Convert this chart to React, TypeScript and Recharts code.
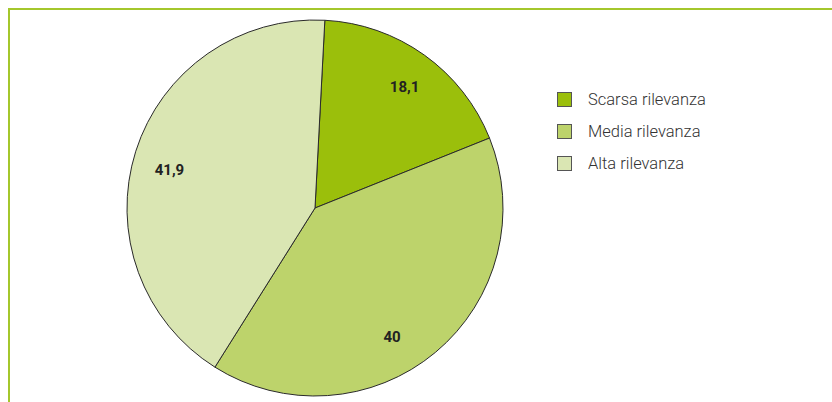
import React from 'react';
import { PieChart, Pie, Cell } from 'recharts';

const categories = ['Scarsa rilevanza', 'Media rilevanza', 'Alta rilevanza'];
const values = [18.1, 40, 41.9];
const valueLabels = ['18,1', '40', '41,9'];
const colors = ['#9bbf0b', '#bdd36b', '#dae6b3'];

const data = categories.map((name, i) => ({ name, value: values[i] }));

const RADIAN = Math.PI / 180;
// small nudges so the value labels sit where the original has them
const labelShift = [-1, -9, 3];

const renderLabel = (props: any) => {
  const { cx, cy, midAngle, outerRadius, index } = props;
  const r = outerRadius * 0.8;
  const a = (midAngle + labelShift[index]) * RADIAN;
  const x = cx + r * Math.cos(-a);
  const y = cy + r * Math.sin(-a);
  return (
    <text
      x={x}
      y={y}
      textAnchor="middle"
      dominantBaseline="central"
      fontFamily="Roboto, sans-serif"
      fontWeight={700}
      fontSize={15}
      fill="#222"
    >
      {valueLabels[index]}
    </text>
  );
};

export default function App() {
  return (
    <div style={{ position: 'fixed', left: 0, top: 0, width: 832, height: 402, background: '#fff', overflow: 'hidden' }}>
      <div
        style={{
          position: 'absolute',
          left: 8,
          top: 8,
          width: 840,
          height: 410,
          borderTop: '2px solid #a4c72c',
          borderLeft: '2px solid #a4c72c',
        }}
      />
      <PieChart
        width={832}
        height={402}
        margin={{ top: 0, right: 0, bottom: 0, left: 0 }}
        style={{ position: 'absolute', left: 0, top: 0 }}
      >
        <Pie
          data={data}
          dataKey="value"
          cx={315}
          cy={208}
          outerRadius={188}
          startAngle={87}
          endAngle={-273}
          stroke="#2a2a2a"
          strokeWidth={1}
          label={renderLabel}
          labelLine={false}
          isAnimationActive={false}
        >
          {data.map((d, i) => (
            <Cell key={d.name} fill={colors[i]} />
          ))}
        </Pie>
      </PieChart>
      {categories.map((c, i) => (
        <div key={c} style={{ position: 'absolute', left: 557, top: 92 + i * 32, height: 16 }}>
          <div
            style={{
              position: 'absolute',
              left: 0,
              top: 0,
              width: 15,
              height: 15,
              background: colors[i],
              border: '1px solid #555',
              boxSizing: 'border-box',
            }}
          />
          <div
            style={{
              position: 'absolute',
              left: 31,
              top: -2,
              whiteSpace: 'nowrap',
              fontFamily: 'Roboto, sans-serif',
              fontWeight: 300,
              fontSize: 17,
              lineHeight: '19px',
              color: '#333',
              transform: 'scaleX(0.97)',
              transformOrigin: 'left center',
            }}
          >
            {c}
          </div>
        </div>
      ))}
    </div>
  );
}
